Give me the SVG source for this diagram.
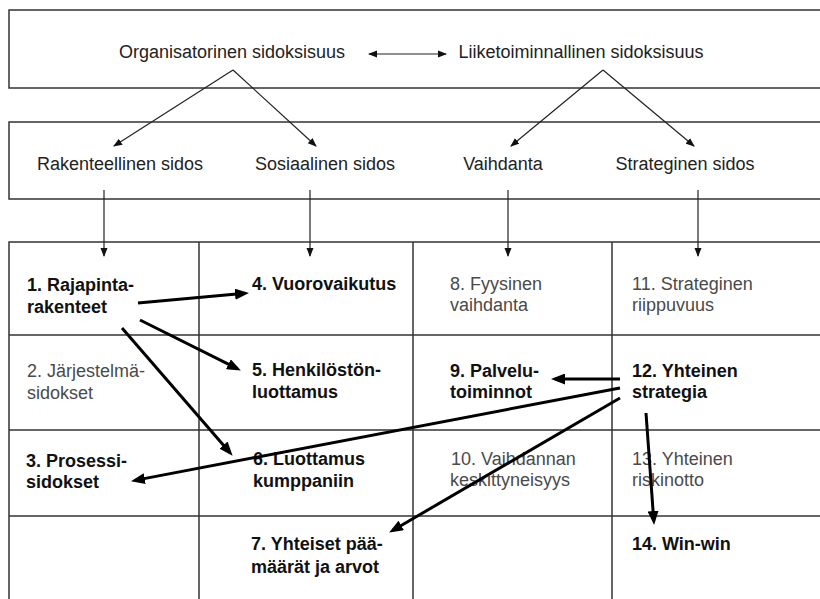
<svg xmlns="http://www.w3.org/2000/svg" width="820" height="599" viewBox="0 0 820 599">
  <style>
    .frame { fill: #ffffff; stroke: #333333; stroke-width: 1.5; }
    .grid { fill: none; stroke: #333333; stroke-width: 1.5; }
    .lbl { font-family: "Liberation Sans", Arial, sans-serif; font-size: 18px; fill: #222222; }
    .soft { font-family: "Liberation Sans", Arial, sans-serif; font-size: 18px; fill: #4a4a4a; }
    .bold { font-family: "Liberation Sans", Arial, sans-serif; font-size: 18px; font-weight: bold; fill: #111111; }
    .thin { fill: none; stroke: #222222; stroke-width: 1.2; }
    .thick { fill: none; stroke: #000000; stroke-width: 3; }
  </style>
  <defs>
    <marker id="headSmall" markerUnits="userSpaceOnUse" markerWidth="9" markerHeight="8" refX="8" refY="4" orient="auto-start-reverse">
      <path d="M0,0.5 L9,4 L0,7.5 z" fill="#111111"/>
    </marker>
    <marker id="headBig" markerUnits="userSpaceOnUse" markerWidth="14" markerHeight="11" refX="10" refY="5.5" orient="auto">
      <path d="M0,0 L14,5.5 L0,11 z" fill="#000000"/>
    </marker>
  </defs>

  <rect width="820" height="599" fill="#ffffff"/>

  <!-- outer frames -->
  <rect class="frame" x="9" y="10" width="815" height="78"/>
  <rect class="frame" x="9" y="122" width="815" height="77"/>

  <!-- 4 x 4 table -->
  <g id="table">
    <rect class="grid" x="9" y="242" width="815" height="362"/>
    <line class="grid" x1="199" y1="242" x2="199" y2="599"/>
    <line class="grid" x1="413" y1="242" x2="413" y2="599"/>
    <line class="grid" x1="612" y1="242" x2="612" y2="599"/>
    <line class="grid" x1="9" y1="335" x2="820" y2="335"/>
    <line class="grid" x1="9" y1="430" x2="820" y2="430"/>
    <line class="grid" x1="9" y1="516" x2="820" y2="516"/>
  </g>

  <!-- top level -->
  <g id="organisatorinen"><text class="lbl" x="232" y="58" text-anchor="middle">Organisatorinen sidoksisuus</text></g>
  <g id="liiketoiminnallinen"><text class="lbl" x="581" y="58" text-anchor="middle">Liiketoiminnallinen sidoksisuus</text></g>

  <!-- second level -->
  <g id="rakenteellinen"><text class="lbl" x="120" y="170" text-anchor="middle">Rakenteellinen sidos</text></g>
  <g id="sosiaalinen"><text class="lbl" x="325" y="170" text-anchor="middle">Sosiaalinen sidos</text></g>
  <g id="vaihdanta"><text class="lbl" x="503" y="170" text-anchor="middle">Vaihdanta</text></g>
  <g id="strateginen"><text class="lbl" x="685" y="170" text-anchor="middle">Strateginen sidos</text></g>

  <!-- column 1 -->
  <g id="c1"><text class="bold" x="27" y="291">1. Rajapinta-<tspan x="27" y="313">rakenteet</tspan></text></g>
  <g id="c2"><text class="soft" x="27" y="377">2. Järjestelmä-<tspan x="27" y="399">sidokset</tspan></text></g>
  <g id="c3"><text class="bold" x="26" y="467">3. Prosessi-<tspan x="26" y="488">sidokset</tspan></text></g>

  <!-- column 2 -->
  <g id="c4"><text class="bold" x="252" y="290">4. Vuorovaikutus</text></g>
  <g id="c5"><text class="bold" x="252" y="376">5. Henkilöstön-<tspan x="252" y="398">luottamus</tspan></text></g>
  <g id="c6"><text class="bold" x="253" y="465">6. Luottamus<tspan x="253" y="487">kumppaniin</tspan></text></g>
  <g id="c7"><text class="bold" x="251" y="550">7. Yhteiset pää-<tspan x="251" y="573">määrät ja arvot</tspan></text></g>

  <!-- column 3 -->
  <g id="c8"><text class="soft" x="450" y="290">8. Fyysinen<tspan x="450" y="311">vaihdanta</tspan></text></g>
  <g id="c9"><text class="bold" x="450" y="377">9. Palvelu-<tspan x="450" y="398">toiminnot</tspan></text></g>
  <g id="c10"><text class="soft" x="451" y="465">10. Vaihdannan<tspan x="450" y="486">keskittyneisyys</tspan></text></g>

  <!-- column 4 -->
  <g id="c11"><text class="soft" x="632" y="290">11. Strateginen<tspan x="632" y="311">riippuvuus</tspan></text></g>
  <g id="c12"><text class="bold" x="632" y="377">12. Yhteinen<tspan x="632" y="398">strategia</tspan></text></g>
  <g id="c13"><text class="soft" x="632" y="465">13. Yhteinen<tspan x="632" y="486">riskinotto</tspan></text></g>
  <g id="c14"><text class="bold" x="632" y="550">14. Win-win</text></g>

  <!-- connectors -->
  <g id="connectors">
    <line class="thin" x1="369" y1="54" x2="446" y2="54" marker-start="url(#headSmall)" marker-end="url(#headSmall)"/>
    <line class="thin" x1="233" y1="70" x2="114" y2="146" marker-end="url(#headSmall)"/>
    <line class="thin" x1="233" y1="70" x2="316" y2="146" marker-end="url(#headSmall)"/>
    <line class="thin" x1="603" y1="70" x2="511" y2="146" marker-end="url(#headSmall)"/>
    <line class="thin" x1="603" y1="70" x2="694" y2="146" marker-end="url(#headSmall)"/>
    <line class="thin" x1="104" y1="190" x2="104" y2="256" marker-end="url(#headSmall)"/>
    <line class="thin" x1="310" y1="190" x2="310" y2="256" marker-end="url(#headSmall)"/>
    <line class="thin" x1="508" y1="190" x2="508" y2="256" marker-end="url(#headSmall)"/>
    <line class="thin" x1="698" y1="190" x2="698" y2="256" marker-end="url(#headSmall)"/>

    <line class="thick" x1="138" y1="303" x2="245" y2="293.3" marker-end="url(#headBig)"/>
    <line class="thick" x1="140" y1="320" x2="237.3" y2="368.7" marker-end="url(#headBig)"/>
    <line class="thick" x1="122" y1="328" x2="230" y2="452.7" marker-end="url(#headBig)"/>
    <line class="thick" x1="620" y1="379" x2="555" y2="379" marker-end="url(#headBig)"/>
    <line class="thick" x1="620" y1="388" x2="134.9" y2="480.4" marker-end="url(#headBig)"/>
    <line class="thick" x1="620" y1="398" x2="392.6" y2="530.5" marker-end="url(#headBig)"/>
    <line class="thick" x1="646" y1="413" x2="653.8" y2="521" marker-end="url(#headBig)"/>
  </g>
</svg>
